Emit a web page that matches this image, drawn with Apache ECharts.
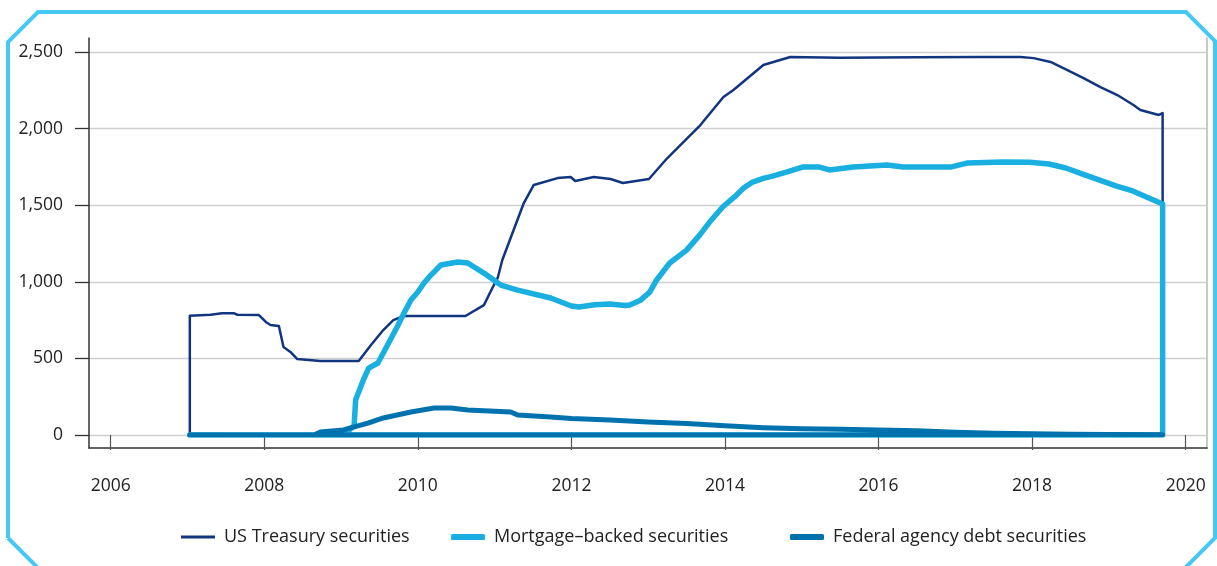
<!DOCTYPE html>
<html>
<head>
<meta charset="utf-8">
<title>Fed holdings</title>
<script src="https://cdn.jsdelivr.net/npm/echarts@6/dist/echarts.min.js"></script>
<style>
  html, body { margin: 0; padding: 0; background: #fff; }
  #chart { width: 1217px; height: 566px; }
</style>
</head>
<body>
<div id="chart"></div>
<script>
// tick labels on the x axis
const yearTicks = [2006, 2008, 2010, 2012, 2014, 2016, 2018, 2020];
const seriesNames = ["US Treasury securities", "Mortgage\u2013backed securities", "Federal agency debt securities"];

// US Treasury securities (billions), outline closes back on zero
const tsyYears = [2007.03, 2007.03, 2007.30, 2007.45, 2007.60, 2007.65, 2007.93, 2008.02, 2008.08, 2008.19,
  2008.25, 2008.34, 2008.43, 2008.73, 2009.23, 2009.39, 2009.55, 2009.68, 2009.82, 2010.62,
  2010.86, 2010.99, 2011.04, 2011.10, 2011.38, 2011.51, 2011.82, 2011.99, 2012.05, 2012.29,
  2012.51, 2012.67, 2013.01, 2013.25, 2013.68, 2013.98, 2014.11, 2014.50, 2014.85, 2015.50,
  2016.50, 2017.30, 2017.85, 2018.02, 2018.24, 2018.46, 2018.67, 2018.89, 2019.11, 2019.32,
  2019.41, 2019.65, 2019.70, 2019.70, 2007.03];
const tsyValues = [0, 778, 785, 795, 795, 785, 783, 738, 718, 711,
  574, 542, 496, 483, 483, 587, 685, 750, 777, 777,
  848, 979, 1025, 1142, 1514, 1632, 1677, 1684, 1658, 1684,
  1671, 1645, 1671, 1808, 2023, 2206, 2252, 2415, 2467, 2462,
  2465, 2468, 2467, 2460, 2435, 2382, 2330, 2271, 2219, 2154,
  2121, 2089, 2101, 0, 0];

// Mortgage-backed securities
const mbsYears = [2007.03, 2009.05, 2009.10, 2009.17, 2009.19, 2009.29, 2009.36, 2009.48, 2009.55, 2009.64,
  2009.73, 2009.82, 2009.91, 2010.00, 2010.08, 2010.17, 2010.30, 2010.52, 2010.65, 2010.86,
  2011.08, 2011.30, 2011.73, 2012.00, 2012.10, 2012.30, 2012.50, 2012.70, 2012.76, 2012.90,
  2013.02, 2013.11, 2013.28, 2013.50, 2013.67, 2013.80, 2013.97, 2014.15, 2014.25, 2014.36,
  2014.50, 2014.62, 2014.81, 2015.01, 2015.23, 2015.36, 2015.67, 2016.11, 2016.32, 2016.80,
  2016.95, 2017.15, 2017.62, 2017.97, 2018.22, 2018.44, 2018.65, 2018.88, 2019.10, 2019.31,
  2019.49, 2019.70, 2019.70, 2007.03];
const mbsValues = [0, 0, 30, 60, 230, 359, 437, 470, 535, 620,
  705, 796, 881, 933, 992, 1044, 1110, 1129, 1123, 1057,
  979, 946, 894, 842, 835, 850, 855, 845, 849, 880,
  933, 1012, 1123, 1207, 1305, 1390, 1488, 1566, 1615, 1651,
  1675, 1690, 1717, 1749, 1749, 1730, 1749, 1762, 1749, 1749,
  1750, 1775, 1782, 1780, 1769, 1743, 1704, 1664, 1625, 1593,
  1553, 1508, 0, 0];

// Federal agency debt securities
const agencyYears = [2007.03, 2008.65, 2008.73, 2009.03, 2009.35, 2009.55, 2009.91, 2010.21, 2010.43, 2010.65,
  2011.21, 2011.30, 2011.73, 2012.00, 2012.50, 2013.00, 2013.50, 2014.00, 2014.50, 2015.00,
  2015.50, 2016.00, 2016.50, 2017.00, 2017.50, 2018.00, 2018.50, 2019.00, 2019.70, 2019.70, 2007.03];
const agencyValues = [0, 0, 20, 33, 78, 111, 150, 176, 176, 163,
  150, 130, 117, 108, 98, 85, 75, 60, 48, 40,
  37, 33, 27, 18, 12, 8, 5, 3, 2, 0, 0];

function pairs(xs, ys) {
  return xs.map((x, i) => [x, ys[i]]);
}

const chart = echarts.init(document.getElementById("chart"));
const font = "Open Sans";
const xMin = 2005.717, xMax = 2020.278;

// one legend per series so each key gets its own thickness
function legendFor(name, left, h, icon) {
  return {
    left: left,
    top: 523,
    itemWidth: 34,
    itemHeight: h,
    icon: icon,
    data: [name],
    textStyle: { fontFamily: font, fontSize: 18, color: "#222", padding: [0, 0, 0, 4] }
  };
}

chart.setOption({
  animation: false,
  textStyle: { fontFamily: font },
  grid: [
    // frame: axis lines
    { left: 89, right: 10, top: 38, bottom: 118 },
    // data area: 0 .. 2500
    { left: 89, right: 10, top: 52, bottom: 131 }
  ],
  graphic: [
    {
      type: "polyline",
      shape: {
        points: [[8, 538], [8, 42], [38, 12], [1186, 12], [1215, 41], [1215, 538], [1185, 568], [38, 568], [8, 538]]
      },
      style: { stroke: "#45c8f2", lineWidth: 4, fill: null, lineJoin: "miter" },
      silent: true
    }
  ],
  legend: [
    legendFor(seriesNames[0], 176, 3, "rect"),
    legendFor(seriesNames[1], 446, 6, "roundRect"),
    legendFor(seriesNames[2], 785, 6, "roundRect")
  ],
  xAxis: [
    {
      gridIndex: 0, type: "value", min: xMin, max: xMax,
      axisLine: { show: true, lineStyle: { color: "#333", width: 1.5 } },
      axisTick: { show: false }, axisLabel: { show: false }, splitLine: { show: false }
    },
    {
      gridIndex: 1, type: "value", min: xMin, max: xMax,
      position: "bottom", offset: 15,
      axisLine: { show: false },
      axisTick: { show: true, length: 15, customValues: yearTicks, lineStyle: { color: "#555", width: 1.2 } },
      axisLabel: {
        show: true, customValues: yearTicks, margin: 27, fontSize: 17.5, color: "#222", fontFamily: font,
        formatter: v => String(Math.round(v))
      },
      splitLine: { show: false }
    }
  ],
  yAxis: [
    {
      gridIndex: 0, type: "value", min: 0, max: 1,
      axisLine: { show: true, lineStyle: { color: "#333", width: 1.5 } },
      axisTick: { show: false }, axisLabel: { show: false }, splitLine: { show: false }
    },
    {
      gridIndex: 0, type: "value", min: 0, max: 1, position: "right",
      axisLine: { show: true, lineStyle: { color: "#c8c8c8", width: 2 } },
      axisTick: { show: false }, axisLabel: { show: false }, splitLine: { show: false }
    },
    {
      gridIndex: 1, type: "value", min: 0, max: 2500, interval: 500,
      axisLine: { show: false },
      axisTick: { show: true, length: 14, lineStyle: { color: "#333", width: 1.3 } },
      axisLabel: {
        margin: 26, fontSize: 17.5, color: "#222", fontFamily: font,
        formatter: v => v.toLocaleString("en-US")
      },
      splitLine: { show: true, lineStyle: { color: "#cfcfcf", width: 1.3 } }
    }
  ],
  series: [
    {
      name: seriesNames[0], type: "line", xAxisIndex: 1, yAxisIndex: 2,
      symbol: "none", data: pairs(tsyYears, tsyValues),
      lineStyle: { color: "#12357f", width: 2.5, cap: "round", join: "round" },
      itemStyle: { color: "#12357f" }
    },
    {
      name: seriesNames[1], type: "line", xAxisIndex: 1, yAxisIndex: 2,
      symbol: "none", data: pairs(mbsYears, mbsValues),
      lineStyle: { color: "#19afe0", width: 5.5, cap: "round", join: "round" },
      itemStyle: { color: "#19afe0" }
    },
    {
      name: seriesNames[2], type: "line", xAxisIndex: 1, yAxisIndex: 2,
      symbol: "none", data: pairs(agencyYears, agencyValues),
      lineStyle: { color: "#0072ad", width: 5, cap: "round", join: "round" },
      itemStyle: { color: "#0072ad" }
    }
  ]
});
</script>
</body>
</html>
